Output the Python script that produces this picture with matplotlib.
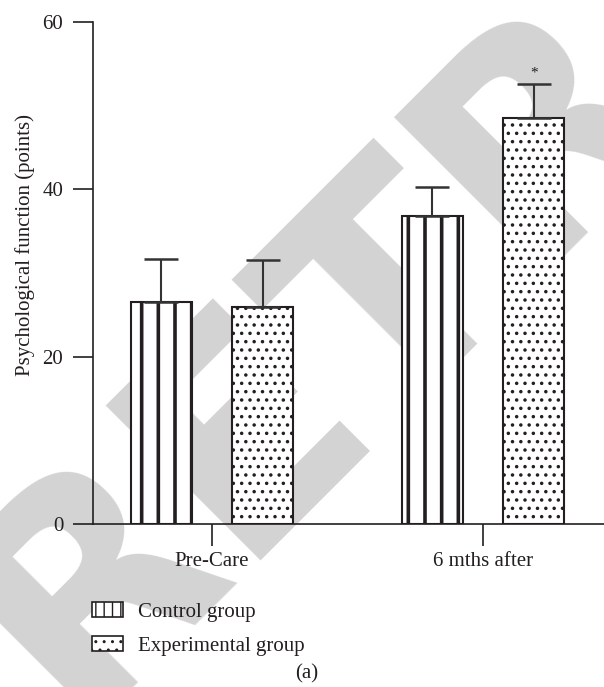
import matplotlib
matplotlib.use('Agg')
import matplotlib.pyplot as plt
from matplotlib.patches import Patch
import numpy as np

categories = ['Pre-Care', '6 mths after']
series = ['Control group', 'Experimental group']
control_mean = [26.5, 36.8]
control_sd = [5.2, 3.5]
exp_mean = [25.9, 48.5]
exp_sd = [5.7, 4.1]
yticks = [0, 20, 40, 60]
hatches = ['|', '..']
hatch_lw = [2.6, 1.3]

plt.rcParams['font.family'] = ['Liberation Serif', 'DejaVu Serif']
plt.rcParams['hatch.color'] = '#1a1a1a'

W, H = 604, 687
fig = plt.figure(figsize=(W / 100, H / 100), dpi=100)
ink = '#231f20'

# watermark (background layer)
bg = fig.add_axes([0, 0, 1, 1], zorder=-5)
bg.set_axis_off()
bg.text(72 / W, -35 / H, 'RETRACTED', color='#d3d3d3', fontsize=215,
        fontweight='bold', family='DejaVu Sans', rotation=45,
        rotation_mode='anchor', ha='left', va='baseline',
        transform=bg.transAxes, clip_on=False)

ax = fig.add_axes([93 / W, (H - 524) / H, (W - 93) / W, 502 / H], zorder=1)
ax.patch.set_alpha(0)
x = np.arange(len(categories))
off, w = 0.187, 0.225
ekw = dict(ecolor='#333333', elinewidth=1.5, capthick=1.8)
means = [control_mean, exp_mean]
sds = [control_sd, exp_sd]
offs = [-off, off]
for i in range(2):
    with plt.rc_context({'hatch.linewidth': hatch_lw[i]}):
        bars = ax.bar(x + offs[i], means[i], w,
                      yerr=[[0] * len(x), sds[i]], capsize=12,
                      facecolor='white', edgecolor=ink, linewidth=1.5,
                      hatch=hatches[i], error_kw=ekw, zorder=2)
    for b in bars:
        if hasattr(b, 'set_hatch_linewidth'):
            b.set_hatch_linewidth(hatch_lw[i])
ax.text(x[1] + off, exp_mean[1] + exp_sd[1] + 0.5, '*', ha='center',
        va='bottom', fontsize=11, color=ink)

ax.set_xlim(-0.439, 1.446)
ax.set_ylim(0, 60)
ax.set_yticks(yticks)
ax.set_xticks(x)
ax.set_xticklabels(categories)
for s in ['top', 'right']:
    ax.spines[s].set_visible(False)
for s in ['left', 'bottom']:
    ax.spines[s].set_color(ink)
    ax.spines[s].set_linewidth(1.2)
ax.tick_params(axis='y', length=14.4, width=1.2, color=ink, pad=7,
               labelsize=15, labelcolor=ink)
ax.tick_params(axis='x', length=15.8, width=1.2, color=ink, pad=4,
               labelsize=15, labelcolor=ink)

fig.text(25 / W, 1 - 245 / H, 'Psychological function (points)', rotation=90,
         ha='center', va='center', fontsize=15, color=ink)

handles = []
for h, lw in zip(['||', '..'], [1.5, 1.0]):
    with plt.rc_context({'hatch.linewidth': lw}):
        p = Patch(facecolor='white', edgecolor=ink, hatch=h, linewidth=1.2)
    if hasattr(p, 'set_hatch_linewidth'):
        p.set_hatch_linewidth(lw)
    handles.append(p)
leg = fig.legend(handles, series, loc='upper left',
                 bbox_to_anchor=(92 / W, 1 - 602 / H), frameon=False,
                 borderpad=0, borderaxespad=0, handlelength=1.5,
                 handleheight=0.72, handletextpad=0.7, labelspacing=0.68,
                 fontsize=15, labelcolor=ink)

fig.text(307 / W, 1 - 674 / H, '(a)', ha='center', va='center', fontsize=15,
         color=ink)

fig.savefig('out.png', dpi=100)
